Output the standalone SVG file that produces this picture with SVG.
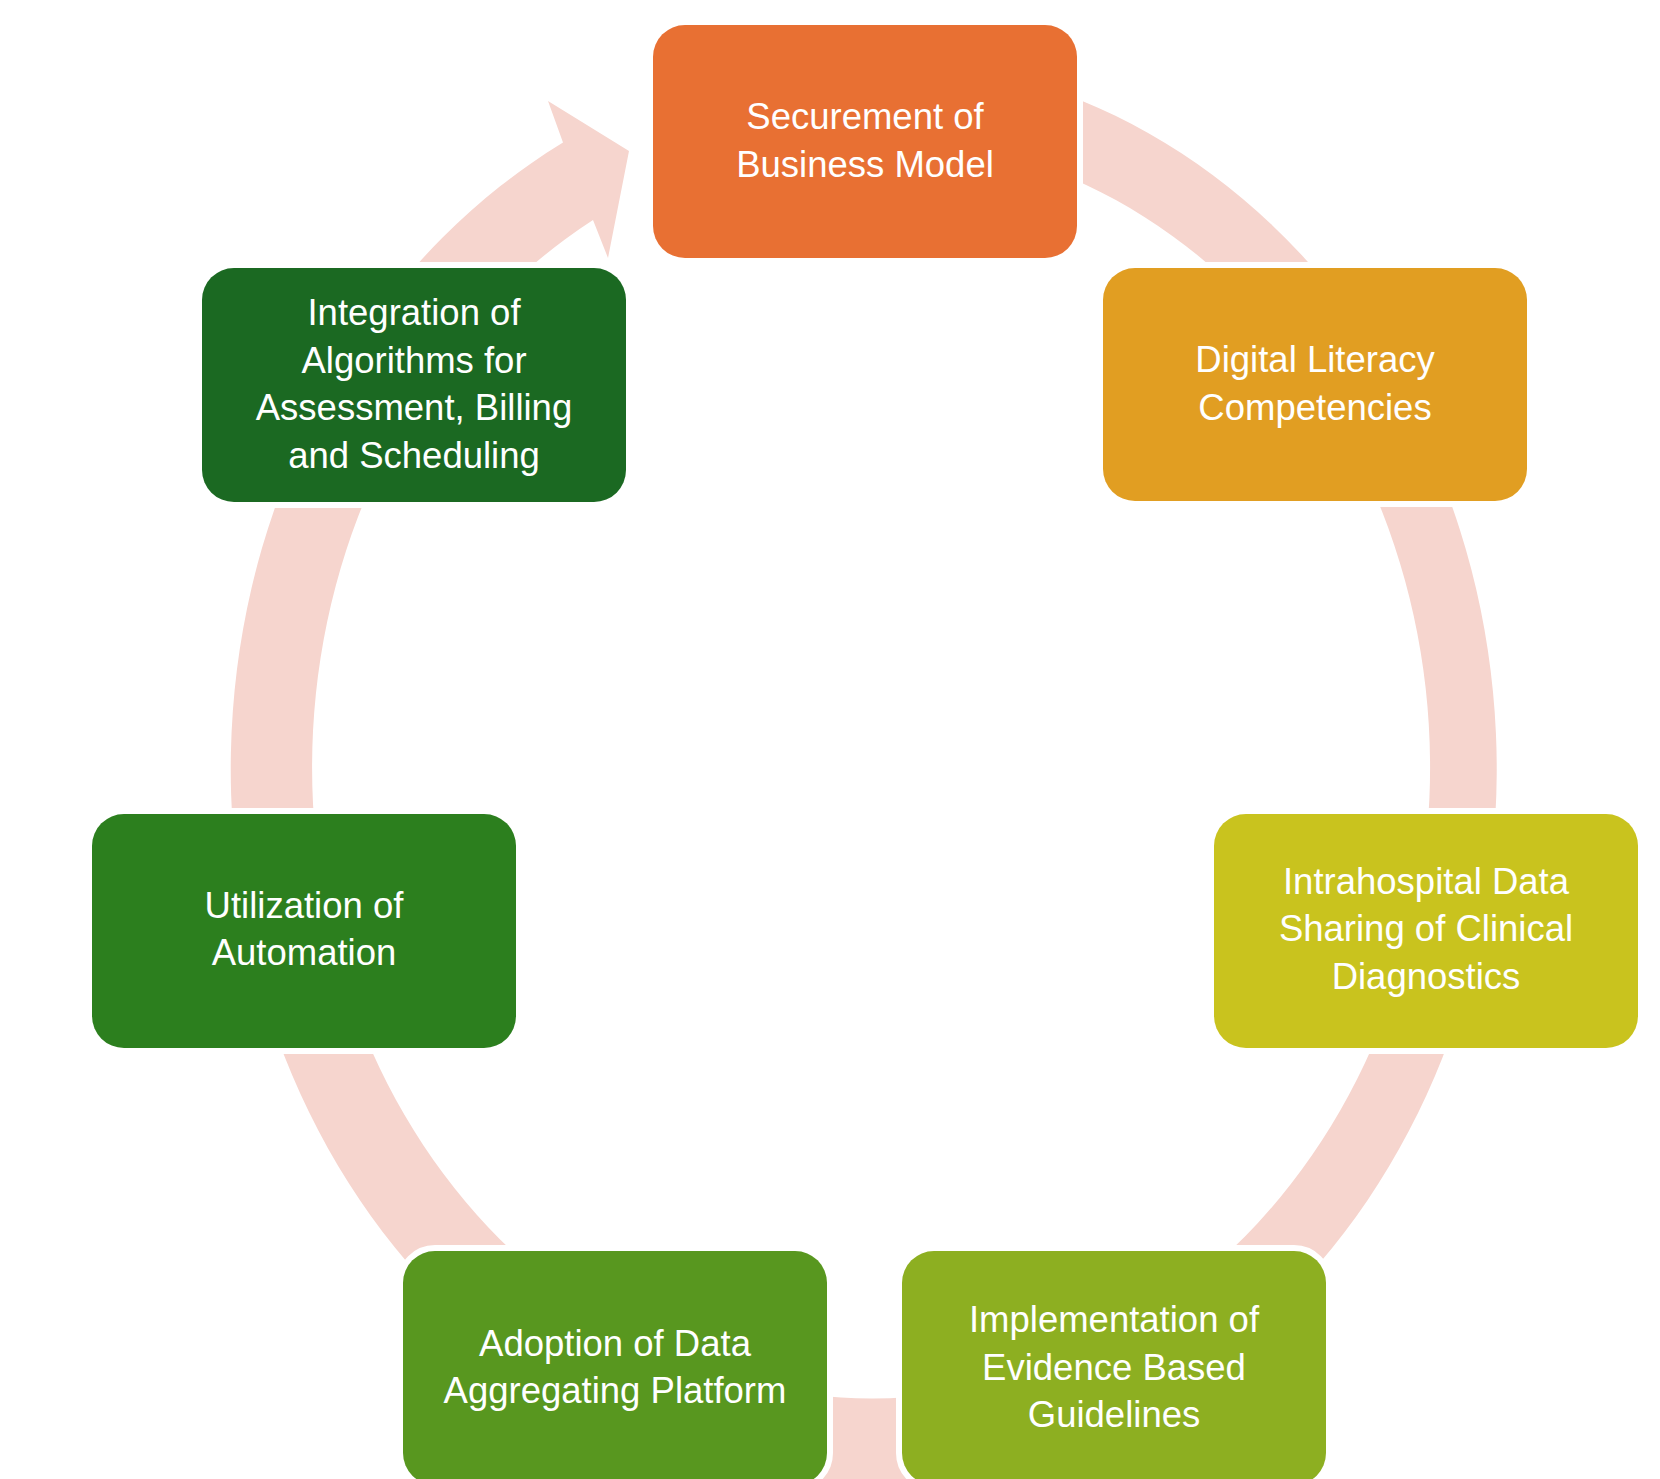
<svg xmlns="http://www.w3.org/2000/svg" width="1660" height="1479" viewBox="0 0 1660 1479">
  <style>
    .node rect { stroke: #ffffff; stroke-width: 12; paint-order: stroke; }
    .node text { font-family: "Liberation Sans", Arial, sans-serif; font-size: 36.5px; fill: #ffffff; text-anchor: middle; }
    .ring { fill: #F6D5CE; stroke: none; }
  </style>
  <rect x="0" y="0" width="1660" height="1479" fill="#ffffff"/>
  <g id="connectors">
    <path class="ring" d="M 974 68 A 633 712 0 1 1 563 142.6 L 548 101 L 629 151 L 608 258 L 593 220 A 559 631 0 1 0 961 144.6 Z"/>
  </g>
  <g id="node-securement" class="node">
    <rect x="653" y="25" width="424" height="233" rx="32" ry="32" fill="#E87033"/>
    <text x="865" y="129">Securement of</text>
    <text x="865" y="176.5">Business Model</text>
  </g>
  <g id="node-digital-literacy" class="node">
    <rect x="1103" y="268" width="424" height="233" rx="32" ry="32" fill="#E19E22"/>
    <text x="1315" y="372">Digital Literacy</text>
    <text x="1315" y="419.5">Competencies</text>
  </g>
  <g id="node-intrahospital" class="node">
    <rect x="1214" y="814" width="424" height="234" rx="32" ry="32" fill="#C9C31E"/>
    <text x="1426" y="893.5">Intrahospital Data</text>
    <text x="1426" y="941">Sharing of Clinical</text>
    <text x="1426" y="988.5">Diagnostics</text>
  </g>
  <g id="node-implementation" class="node">
    <rect x="902" y="1251" width="424" height="234" rx="32" ry="32" fill="#8DAF21"/>
    <text x="1114" y="1332">Implementation of</text>
    <text x="1114" y="1379.5">Evidence Based</text>
    <text x="1114" y="1427">Guidelines</text>
  </g>
  <g id="node-adoption" class="node">
    <rect x="403" y="1251" width="424" height="234" rx="32" ry="32" fill="#58971F"/>
    <text x="615" y="1355.5">Adoption of Data</text>
    <text x="615" y="1403">Aggregating Platform</text>
  </g>
  <g id="node-utilization" class="node">
    <rect x="92" y="814" width="424" height="234" rx="32" ry="32" fill="#2C7F1E"/>
    <text x="304" y="917.5">Utilization of</text>
    <text x="304" y="965">Automation</text>
  </g>
  <g id="node-integration" class="node">
    <rect x="202" y="268" width="424" height="234" rx="32" ry="32" fill="#1B6922"/>
    <text x="414" y="325">Integration of</text>
    <text x="414" y="372.5">Algorithms for</text>
    <text x="414" y="420">Assessment, Billing</text>
    <text x="414" y="467.5">and Scheduling</text>
  </g>
</svg>
